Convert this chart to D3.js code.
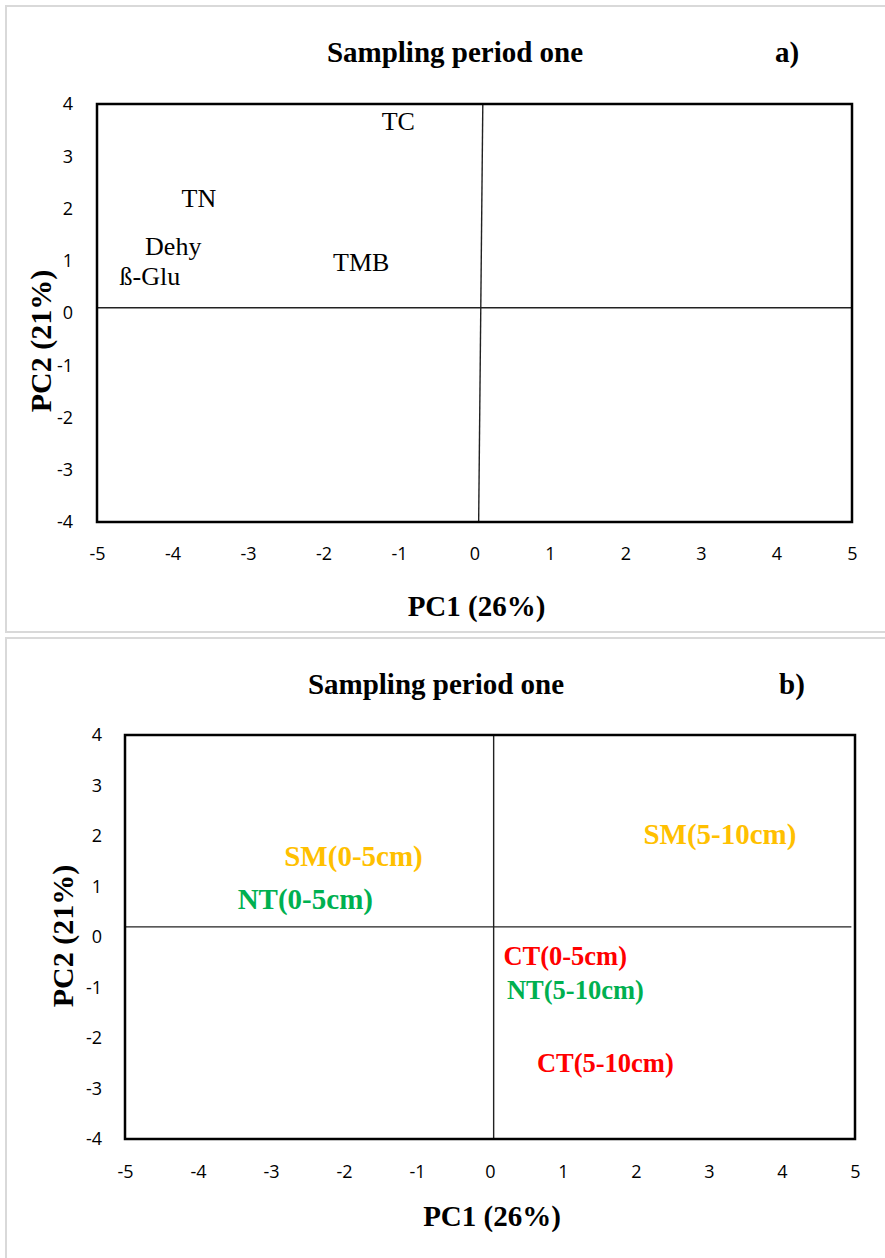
<!DOCTYPE html>
<html>
<head>
<meta charset="utf-8">
<script src="https://cdn.jsdelivr.net/npm/d3@7/dist/d3.min.js"></script>
<style>
  html, body { margin: 0; padding: 0; background: #fff; }
  svg { display: block; }
</style>
</head>
<body>
<svg id="chart" width="885" height="1258"></svg>
<script>
// ---------- data ----------
const xTicks = [-5, -4, -3, -2, -1, 0, 1, 2, 3, 4, 5];
const yTicks = [-4, -3, -2, -1, 0, 1, 2, 3, 4];
const titleText = "Sampling period one";
const xAxisTitle = "PC1 (26%)";
const yAxisTitle = "PC2 (21%)";

// panel a) variable loadings
const loadingLabels = ["TC", "TN", "Dehy", "ß-Glu", "TMB"];
const loadingPC1 = [-1.01, -3.65, -3.99, -4.30, -1.50];
const loadingPC2 = [3.66, 2.20, 1.28, 0.70, 0.97];

// panel b) treatment scores
const scoreLabels = ["SM(0-5cm)", "NT(0-5cm)", "SM(5-10cm)", "CT(0-5cm)", "NT(5-10cm)", "CT(5-10cm)"];
const scorePC1 = [-1.87, -2.53, 3.15, 1.03, 1.17, 1.58];
const scorePC2 = [1.60, 0.75, 2.04, -0.38, -1.05, -2.50];
const scoreGroup = ["SM", "NT", "SM", "CT", "NT", "CT"];

// reference (zero) lines as drawn in the original: [x at top, x at bottom], y
const zeroLineA = { vx: [0.11, 0.055], hy: 0.10 };
const zeroLineB = { vx: [0.05, 0.05], hy: 0.20 };

// ---------- styles ----------
const groupColors = { SM: "#FFC000", NT: "#00B050", CT: "#FF0000" };
const scoreFontSize = { "SM(0-5cm)": 29, "NT(0-5cm)": 29, "SM(5-10cm)": 29,
                        "CT(0-5cm)": 26.5, "NT(5-10cm)": 26.5, "CT(5-10cm)": 26.5 };

// ---------- drawing ----------
const svg = d3.select("#chart");
const serif = "'Liberation Serif', 'Times New Roman', serif";
const sans = "'Open Sans', sans-serif";

function panel(opts) {
  const g = svg.append("g");
  // outer light frame
  g.append("rect")
    .attr("x", opts.frame[0]).attr("y", opts.frame[1])
    .attr("width", opts.frame[2]).attr("height", opts.frame[3])
    .attr("fill", "none").attr("stroke", "#d9d9d9").attr("stroke-width", 2);

  const x = d3.scaleLinear().domain([-5, 5]).range(opts.xr);
  const y = d3.scaleLinear().domain([-4, 4]).range(opts.yr);

  // x axis tick labels
  const xAxis = d3.axisBottom(x).tickValues(xTicks).tickSize(0).tickPadding(opts.xPad)
    .tickFormat(d => String(d));
  const xg = g.append("g").attr("transform", `translate(0,${opts.yr[0]})`).call(xAxis);
  xg.select(".domain").remove();
  xg.selectAll("text").attr("font-family", sans).attr("font-size", 18).attr("fill", "#000");

  const yAxis = d3.axisLeft(y).tickValues(yTicks).tickSize(0).tickPadding(opts.yPad)
    .tickFormat(d => String(d));
  const yg = g.append("g").attr("transform", `translate(${opts.xr[0]},0)`).call(yAxis);
  yg.select(".domain").remove();
  yg.selectAll("text").attr("font-family", sans).attr("font-size", 18).attr("fill", "#000");

  // zero lines
  g.append("line")
    .attr("x1", x(opts.zero.vx[0])).attr("y1", y(4))
    .attr("x2", x(opts.zero.vx[1])).attr("y2", y(-4))
    .attr("stroke", "#222").attr("stroke-width", 1.4);
  g.append("line")
    .attr("x1", x(-5)).attr("y1", y(opts.zero.hy))
    .attr("x2", x(opts.hEnd)).attr("y2", y(opts.zero.hy))
    .attr("stroke", "#222").attr("stroke-width", 1.4);

  // plot border
  g.append("rect")
    .attr("x", x(-5)).attr("y", y(4))
    .attr("width", x(5) - x(-5)).attr("height", y(-4) - y(4))
    .attr("fill", "none").attr("stroke", "#000").attr("stroke-width", 2.5);

  // title and panel letter
  g.append("text").attr("x", opts.titleX).attr("y", opts.titleY)
    .attr("text-anchor", "middle")
    .attr("font-family", serif)
    .attr("font-weight", "bold").attr("font-size", 29).text(titleText);
  g.append("text").attr("x", opts.letterX).attr("y", opts.titleY)
    .attr("text-anchor", "middle")
    .attr("font-family", serif)
    .attr("font-weight", "bold").attr("font-size", 29).text(opts.letter);

  // axis titles
  g.append("text").attr("x", (x(-5) + x(5)) / 2 + 2).attr("y", opts.xTitleY)
    .attr("text-anchor", "middle")
    .attr("font-family", serif)
    .attr("font-weight", "bold").attr("font-size", 29).text(xAxisTitle);
  g.append("text")
    .attr("transform", `translate(${opts.yTitleX},${opts.yTitleY}) rotate(-90)`)
    .attr("text-anchor", "middle").attr("dominant-baseline", "central")
    .attr("font-family", serif)
    .attr("font-weight", "bold").attr("font-size", 30).text(yAxisTitle);

  return { g, x, y };
}

// panel a
const A = panel({
  frame: [6, 6, 885, 626],
  xr: [97, 852], yr: [522, 104],
  xPad: 25, yPad: 24,
  zero: zeroLineA, hEnd: 5,
  titleX: 455, titleY: 62, letterX: 787, letter: "a)",
  xTitleY: 616, yTitleX: 40, yTitleY: 341
});
A.g.selectAll(".loading")
  .data(loadingLabels.map((l, i) => ({ l, px: loadingPC1[i], py: loadingPC2[i] })))
  .join("text")
  .attr("class", "loading")
  .attr("x", d => A.x(d.px)).attr("y", d => A.y(d.py))
  .attr("text-anchor", "middle").attr("dominant-baseline", "central")
  .attr("font-family", serif)
  .attr("font-size", 26).attr("fill", "#000")
  .text(d => d.l);

// panel b
const B = panel({
  frame: [6, 638, 885, 630],
  xr: [125, 855], yr: [1139, 735],
  xPad: 26, yPad: 23,
  zero: zeroLineB, hEnd: 4.95,
  titleX: 436, titleY: 694, letterX: 792, letter: "b)",
  xTitleY: 1226, yTitleX: 62, yTitleY: 936
});
B.g.selectAll(".score")
  .data(scoreLabels.map((l, i) => ({ l, px: scorePC1[i], py: scorePC2[i], c: groupColors[scoreGroup[i]] })))
  .join("text")
  .attr("class", "score")
  .attr("x", d => B.x(d.px)).attr("y", d => B.y(d.py))
  .attr("text-anchor", "middle").attr("dominant-baseline", "central")
  .attr("font-family", serif)
  .attr("font-weight", "bold").attr("font-size", d => scoreFontSize[d.l]).attr("fill", d => d.c)
  .text(d => d.l);
</script>
</body>
</html>
